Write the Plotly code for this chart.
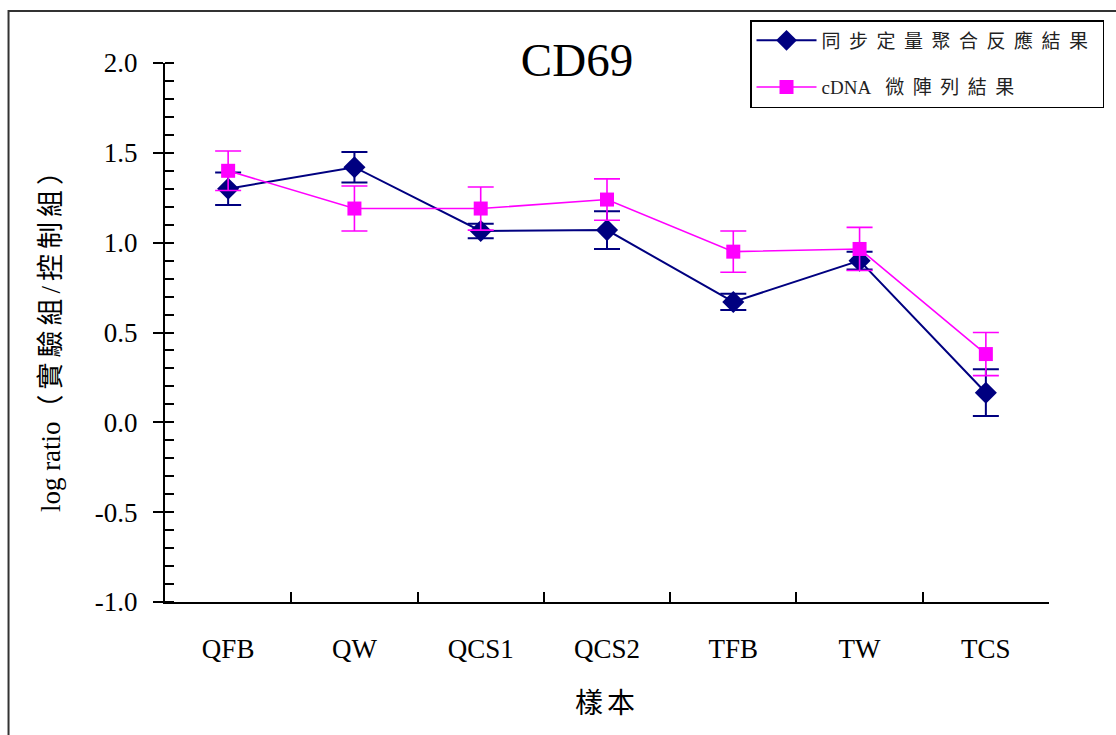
import plotly.graph_objects as go

categories = ["QFB", "QW", "QCS1", "QCS2", "TFB", "TW", "TCS"]
qpcr_values = [1.30, 1.42, 1.065, 1.07, 0.67, 0.90, 0.165]
qpcr_errors = [0.09, 0.085, 0.04, 0.105, 0.045, 0.05, 0.13]
cdna_values = [1.40, 1.19, 1.19, 1.24, 0.95, 0.965, 0.38]
cdna_errors = [0.11, 0.125, 0.12, 0.115, 0.115, 0.12, 0.12]
y_ticks = [-1.0, -0.5, 0.0, 0.5, 1.0, 1.5, 2.0]

serif = "Liberation Serif, Times New Roman, Noto Sans CJK TC, serif"
cjk = "Liberation Serif, Noto Sans CJK TC, serif"


def spaced(text, px):
    return f'<span style="letter-spacing:{px}px">{text}</span>'


fig = go.Figure()
fig.add_trace(go.Scatter(
    x=categories, y=qpcr_values, name=spaced("同步定量聚合反應結果", 8.5), legendgroup="a",
    mode="lines+markers",
    line=dict(color="#000080", width=2),
    marker=dict(symbol="diamond", size=17, color="#000080"),
    error_y=dict(type="data", array=qpcr_errors, color="#000080", thickness=2, width=13),
))
fig.add_trace(go.Scatter(
    x=categories, y=cdna_values, name="cDNA&nbsp;&nbsp;&nbsp;" + spaced("微陣列結果", 8.5), legendgroup="b",
    mode="lines+markers",
    line=dict(color="#FF00FF", width=1.6),
    marker=dict(symbol="square", size=14, color="#FF00FF"),
    error_y=dict(type="data", array=cdna_errors, color="#FF00FF", thickness=1.6, width=13),
))

fig.update_layout(
    width=1116, height=735,
    margin=dict(l=165, r=64, t=63, b=133),
    paper_bgcolor="white", plot_bgcolor="white",
    font=dict(family=serif, color="black", size=26),
    title=dict(text="CD69", x=577 / 1116, xanchor="center", y=1 - 60 / 735, yanchor="middle",
               font=dict(family=serif, size=47, color="black")),
    showlegend=True,
    legend=dict(
        x=(752 - 165) / 887, y=1 + (63 - 20) / 539, xanchor="left", yanchor="top",
        bordercolor="black", borderwidth=1.5, bgcolor="white",
        font=dict(family=cjk, size=19, color="#222"),
        tracegroupgap=19, itemwidth=60,
    ),
    xaxis=dict(
        type="category", range=[-0.5, 6.5],
        showline=True, linecolor="black", linewidth=2,
        ticks="inside", tickson="boundaries", ticklen=10, tickwidth=1.5, tickcolor="black",
        ticklabelstandoff=22,
        tickfont=dict(family=serif, size=27),
        showgrid=False, zeroline=False,
        title=dict(text=spaced("樣本", 4), font=dict(family=cjk, size=28), standoff=30),
    ),
    yaxis=dict(
        range=[-1, 2], tickvals=y_ticks, ticktext=[f"{v:.1f}" for v in y_ticks],
        showline=True, linecolor="black", linewidth=2,
        ticks="outside", ticklen=10, tickwidth=1.5, tickcolor="black",
        ticklabelstandoff=10,
        minor=dict(ticks="inside", dtick=0.1, tick0=0, ticklen=9, tickwidth=1.5, tickcolor="black", showgrid=False),
        tickfont=dict(family=serif, size=27),
        showgrid=False, zeroline=False,
        title=dict(text="log ratio" + spaced("（實驗組/控制組）", 5), font=dict(family=serif, size=27), standoff=26),
    ),
    yaxis2=dict(
        range=[-1, 2], overlaying="y", side="left", anchor="x",
        tickvals=y_ticks, showticklabels=False,
        ticks="inside", ticklen=10, tickwidth=1.5, tickcolor="black",
        showgrid=False, zeroline=False, showline=False,
    ),
)

fig.add_shape(type="rect", xref="paper", yref="paper",
              x0=(8 - 165) / 887, x1=(1125 - 165) / 887,
              y0=(602 - 745) / 539, y1=1 + (63 - 11) / 539,
              line=dict(color="#333", width=2), fillcolor="rgba(0,0,0,0)", layer="below")

fig.write_html("out.html")
